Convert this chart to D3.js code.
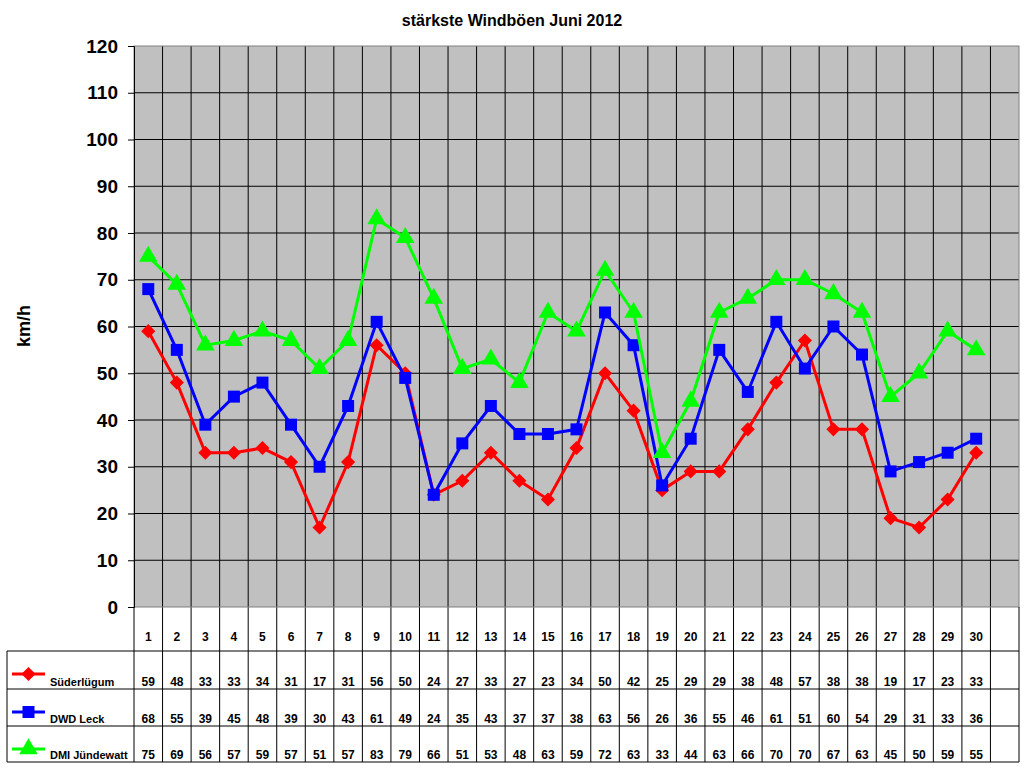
<!DOCTYPE html>
<html lang="de">
<head>
<meta charset="UTF-8">
<title>stärkste Windböen Juni 2012</title>
<script src="https://d3js.org/d3.v7.min.js"></script>
<style>
    body { margin: 0; background: #fff; }
    text { font-family: Arial, "Liberation Sans", sans-serif; font-weight: bold; }
</style>
</head>
<body>
<div id="chart"></div>
<script>
    const days = d3.range(1, 31);
    const seriesNames = ["Süderlügum", "DWD Leck", "DMI Jündewatt"];
    const suederluegum = [59, 48, 33, 33, 34, 31, 17, 31, 56, 50, 24, 27, 33, 27, 23, 34, 50, 42, 25, 29, 29, 38, 48, 57, 38, 38, 19, 17, 23, 33];
    const dwdLeck = [68, 55, 39, 45, 48, 39, 30, 43, 61, 49, 24, 35, 43, 37, 37, 38, 63, 56, 26, 36, 55, 46, 61, 51, 60, 54, 29, 31, 33, 36];
    const dmiJuendewatt = [75, 69, 56, 57, 59, 57, 51, 57, 83, 79, 66, 51, 53, 48, 63, 59, 72, 63, 33, 44, 63, 66, 70, 70, 67, 63, 45, 50, 59, 55];
    const yTicks = d3.range(0, 121, 10);

    const series = [
        { name: seriesNames[0], values: suederluegum, color: "#ff0000", symbol: d3.symbolSquare, size: 100, rot: 45 },
        { name: seriesNames[1], values: dwdLeck, color: "#0000ff", symbol: d3.symbolSquare, size: 144, rot: 0 },
        { name: seriesNames[2], values: dmiJuendewatt, color: "#00ff00", symbol: d3.symbolTriangle, size: 150, rot: 0 }
    ];

    const W = 1024, H = 768;
    const plot = { left: 134, top: 46, right: 1019, bottom: 607 };
    const tableLeft = 7;
    const rowLines = [651, 689, 726, 762];

    const svg = d3.select("#chart").append("svg")
        .attr("width", W).attr("height", H);

    // 31 columns: 30 days plus an empty one
    const x = d3.scaleBand().domain(d3.range(1, 32)).range([plot.left, plot.right]).padding(0);
    const xc = d => x(d) + x.bandwidth() / 2;
    const y = d3.scaleLinear().domain([0, 120]).range([plot.bottom, plot.top]);

    // title
    svg.append("text").attr("x", 512).attr("y", 26).attr("text-anchor", "middle")
        .style("font-size", "16px").text("stärkste Windböen Juni 2012");

    // plot background
    svg.append("rect").attr("x", plot.left).attr("y", plot.top)
        .attr("width", plot.right - plot.left).attr("height", plot.bottom - plot.top)
        .attr("fill", "#c0c0c0");

    // horizontal gridlines
    svg.append("g").selectAll("line").data(yTicks.filter(t => t > 0 && t < 120)).join("line")
        .attr("x1", plot.left).attr("x2", plot.right)
        .attr("y1", d => y(d)).attr("y2", d => y(d))
        .attr("stroke", "#000").attr("stroke-width", 1);

    // vertical column lines through plot and table
    svg.append("g").selectAll("line").data(d3.range(2, 32)).join("line")
        .attr("x1", d => x(d)).attr("x2", d => x(d))
        .attr("y1", plot.top).attr("y2", rowLines[3])
        .attr("stroke", "#000").attr("stroke-width", 1);

    // plot border
    svg.append("rect").attr("x", plot.left).attr("y", plot.top)
        .attr("width", plot.right - plot.left).attr("height", plot.bottom - plot.top)
        .attr("fill", "none").attr("stroke", "#808080").attr("stroke-width", 1);

    // y axis
    const yAxis = svg.append("g").attr("transform", `translate(${plot.left},0)`)
        .call(d3.axisLeft(y).tickValues(yTicks).tickSize(6).tickPadding(10));
    yAxis.select(".domain").attr("stroke", "#000");
    yAxis.selectAll(".tick line").attr("stroke", "#000");
    yAxis.selectAll(".tick text").style("font-size", "19px").style("font-family", "Arial, 'Liberation Sans', sans-serif")
        .style("font-weight", "bold").attr("fill", "#000");

    svg.append("text").attr("transform", "translate(30,326) rotate(-90)")
        .attr("text-anchor", "middle").style("font-size", "18px").text("km/h");

    // series lines and markers
    const line = d3.line().x((d, i) => xc(days[i])).y(d => y(d));
    series.forEach(s => {
        svg.append("path").datum(s.values).attr("d", line)
            .attr("fill", "none").attr("stroke", s.color).attr("stroke-width", 3);
        svg.append("g").selectAll("path").data(s.values).join("path")
            .attr("d", d3.symbol().type(s.symbol).size(s.size))
            .attr("transform", (d, i) => `translate(${xc(days[i])},${y(d)}) rotate(${s.rot})`)
            .attr("fill", s.color);
    });

    // data table
    const tbl = svg.append("g");
    tbl.append("line").attr("x1", plot.right).attr("x2", plot.right)
        .attr("y1", plot.bottom).attr("y2", rowLines[3]).attr("stroke", "#000");
    tbl.append("line").attr("x1", plot.left).attr("x2", plot.left)
        .attr("y1", plot.bottom).attr("y2", rowLines[3]).attr("stroke", "#000");
    tbl.append("line").attr("x1", tableLeft).attr("x2", tableLeft)
        .attr("y1", rowLines[0]).attr("y2", rowLines[3]).attr("stroke", "#000");
    tbl.selectAll(".hline").data(rowLines).join("line").attr("class", "hline")
        .attr("x1", tableLeft).attr("x2", plot.right)
        .attr("y1", d => d).attr("y2", d => d).attr("stroke", "#000");

    tbl.selectAll(".day").data(days).join("text").attr("class", "day")
        .attr("x", d => xc(d)).attr("y", 641).attr("text-anchor", "middle")
        .style("font-size", "12px").text(d => d);

    series.forEach((s, k) => {
        const base = rowLines[k + 1] - 3;
        tbl.append("g").selectAll("text").data(s.values).join("text")
            .attr("x", (d, i) => xc(days[i])).attr("y", base).attr("text-anchor", "middle")
            .style("font-size", "12px").text(d => d);
        // legend key
        const ly = rowLines[k] + 23;
        tbl.append("line").attr("x1", 12).attr("x2", 45).attr("y1", ly).attr("y2", ly)
            .attr("stroke", s.color).attr("stroke-width", 3);
        tbl.append("path").attr("d", d3.symbol().type(s.symbol).size(s.size))
            .attr("transform", `translate(28.5,${ly}) rotate(${s.rot})`).attr("fill", s.color);
        tbl.append("text").attr("x", 50).attr("y", base).style("font-size", "11px").text(s.name);
    });
</script>
</body>
</html>
